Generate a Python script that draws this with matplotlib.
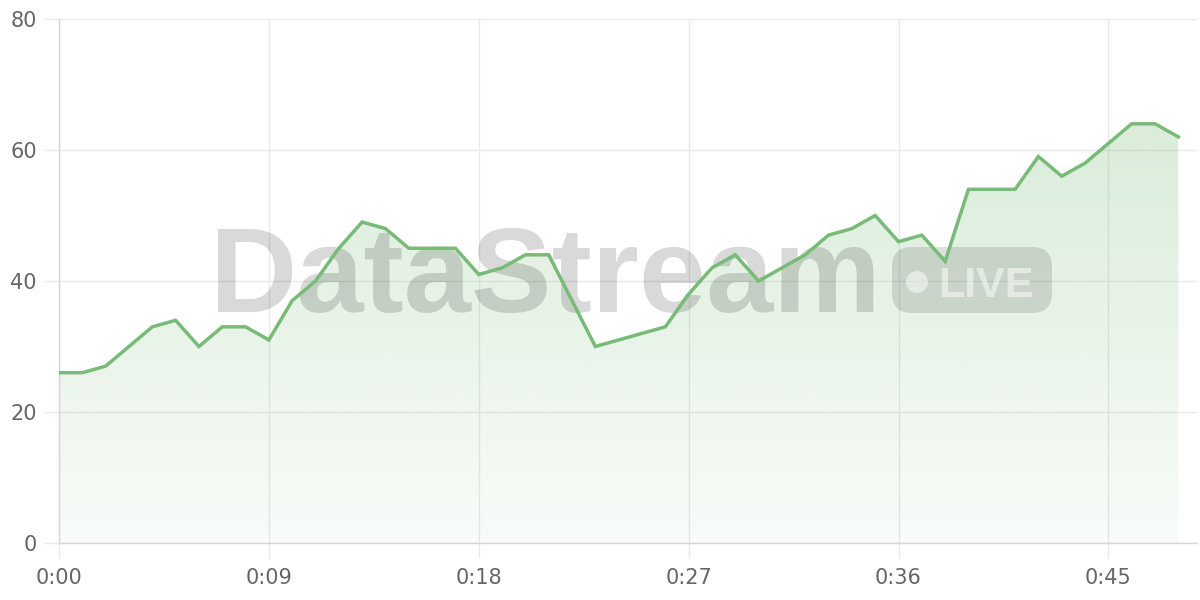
import numpy as np
import matplotlib
matplotlib.use("Agg")
import matplotlib.pyplot as plt
from matplotlib.patches import FancyBboxPatch, Circle
from matplotlib.transforms import Affine2D

# one sample per second
seconds = list(range(49))
values = [26, 26, 27, 30, 33, 34, 30, 33, 33, 31, 37, 40, 45, 49, 48, 45, 45, 45,
          41, 42, 44, 44, 37, 30, 31, 32, 33, 38, 42, 44, 40, 42, 44, 47, 48, 50,
          46, 47, 43, 54, 54, 54, 59, 56, 58, 61, 64, 64, 62]
x_ticks = [0, 9, 18, 27, 36, 45]
x_tick_labels = [f"0:{s:02d}" for s in x_ticks]
y_ticks = [0, 20, 40, 60, 80]

line_color = "#78bb78"
grid_color = "#e9e9e9"
spine_color = "#d6d6d6"
label_color = "#666666"

fig = plt.figure(figsize=(12, 6), dpi=100)
ax = fig.add_axes([59 / 1200, 57 / 600, (1197 - 59) / 1200, (543 - 19) / 600])

ax.set_xlim(0, 48.8)
ax.set_ylim(0, 80)

# gradient fill under the line, clipped to the area polygon
poly = ax.fill_between(seconds, values, 0, color="none", lw=0)
alpha = np.linspace(0.05, 0.33, 256)[:, None]
rgba = np.zeros((256, 1, 4))
rgba[..., :3] = matplotlib.colors.to_rgb(line_color)
rgba[..., 3] = alpha
img = ax.imshow(rgba, extent=[0, 48.8, 0, 80], origin="lower", aspect="auto", zorder=1)
img.set_clip_path(poly.get_paths()[0], transform=ax.transData)

ax.plot(seconds, values, color=line_color, lw=2.5, zorder=4, solid_joinstyle="miter")

# watermark, placed in pixel coordinates measured from the top-left corner
px = Affine2D().scale(1, -1).translate(0, 600)
ax.text(210, 312, "DataStream", transform=px, fontsize=87, fontweight="bold",
        family="Liberation Sans", color="black", alpha=0.15, va="baseline",
        ha="left", zorder=3, clip_on=False)
badge = FancyBboxPatch((892, 247), 160, 66, boxstyle="round,pad=0,rounding_size=20",
                       transform=px, facecolor="black", edgecolor="none", alpha=0.12,
                       zorder=3, clip_on=False)
ax.add_patch(badge)
ax.add_patch(Circle((917, 282), 11, transform=px, facecolor="white", alpha=0.5,
                    edgecolor="none", zorder=3, clip_on=False))
ax.text(938, 297, "LIVE", transform=px, fontsize=31, fontweight="bold",
        family="Liberation Sans",
        color="white", alpha=0.5, va="baseline", ha="left", zorder=3, clip_on=False)

ax.set_xticks(x_ticks)
ax.set_xticklabels(x_tick_labels)
ax.set_yticks(y_ticks)
ax.grid(True, color=grid_color, lw=1)
ax.set_axisbelow(True)
for side in ["top", "right"]:
    ax.spines[side].set_visible(False)
for side in ["left", "bottom"]:
    ax.spines[side].set_color(spine_color)
    ax.spines[side].set_linewidth(1)
ax.tick_params(axis="both", colors=grid_color, length=11, width=1,
               labelcolor=label_color, labelsize=15)
ax.tick_params(axis="y", pad=5)
ax.tick_params(axis="x", pad=7)

fig.savefig("out.png", dpi=100)
